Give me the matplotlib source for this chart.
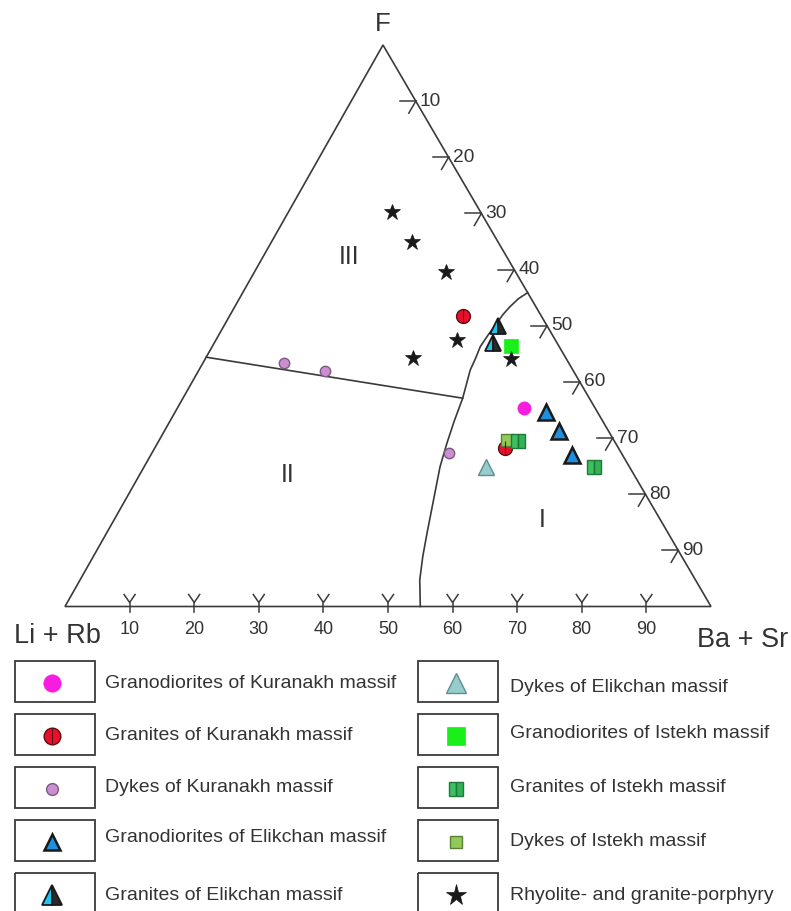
import numpy as np
import matplotlib
matplotlib.use('Agg')
import matplotlib.pyplot as plt
from matplotlib.patches import Rectangle, Polygon

plt.rcParams['font.family'] = ['Liberation Sans', 'DejaVu Sans']

# compositions in percent: F, Li+Rb, Ba+Sr
gdk_F, gdk_LR, gdk_BS = [35.4], [11.0], [53.6]                 # granodiorites Kuranakh
grk_F, grk_LR, grk_BS = [51.7, 28.2], [12.1, 17.5], [36.2, 54.3]  # granites Kuranakh
dyk_F, dyk_LR, dyk_BS = [43.4, 42.0, 27.4], [44.0, 38.4, 26.6], [12.6, 19.6, 46.0]
gde_F, gde_LR, gde_BS = [34.6, 31.3, 27.0], [7.9, 7.7, 7.8], [57.5, 61.0, 65.2]
gre_F, gre_LR, gre_BS = [50.0, 46.9], [7.6, 10.0], [42.4, 43.1]
dye_F, dye_LR, dye_BS = [24.8], [22.3], [52.9]
gdi_F, gdi_LR, gdi_BS = [46.4], [7.4], [46.2]
gri_F, gri_LR, gri_BS = [29.4, 24.9], [14.9, 5.4], [55.7, 69.7]
dyi_F, dyi_LR, dyi_BS = [29.7], [16.5], [53.8]
rhy_F = [70.2, 64.9, 59.6, 47.5, 44.3, 44.1]
rhy_LR = [13.8, 13.4, 10.8, 15.2, 23.6, 8.5]
rhy_BS = [16.0, 21.7, 29.6, 37.3, 32.1, 47.4]

# field boundaries
b23_F, b23_LR, b23_BS = [44.4, 37.1], [55.6, 19.6], [0.0, 43.3]
b1_F = [55.9, 54.8, 53.4, 52.0, 50.4, 48.4, 46.3, 44.2, 42.1, 37.1, 33.0, 29.1, 24.9, 19.0, 13.1, 8.9, 4.7, 0.0]
b1_LR = [0.0, 2.0, 4.0, 5.8, 7.6, 9.9, 12.2, 14.0, 15.9, 19.6, 23.0, 26.1, 29.3, 33.3, 37.3, 40.1, 42.7, 45.0]
b1_BS = [44.1, 43.2, 42.6, 42.2, 42.0, 41.7, 41.5, 41.8, 42.0, 43.3, 44.0, 44.8, 45.8, 47.7, 49.6, 51.0, 52.6, 55.0]

tick_vals = [10, 20, 30, 40, 50, 60, 70, 80, 90]

legend_left = ['Granodiorites of Kuranakh massif', 'Granites of Kuranakh massif',
               'Dykes of Kuranakh massif', 'Granodiorites of Elikchan massif',
               'Granites of Elikchan massif']
legend_right = ['Dykes of Elikchan massif', 'Granodiorites of Istekh massif',
                'Granites of Istekh massif', 'Dykes of Istekh massif',
                'Rhyolite- and granite-porphyry']

# triangle corners in figure pixels
LV = (65.0, 606.5)
RV = (711.0, 606.5)
TV = (383.0, 45.0)


def tern(f, lr, bs):
    f = np.asarray(f, float); lr = np.asarray(lr, float); bs = np.asarray(bs, float)
    s = f + lr + bs
    x = (lr * LV[0] + bs * RV[0] + f * TV[0]) / s
    y = (lr * LV[1] + bs * RV[1] + f * TV[1]) / s
    return x, y


LC = '#3a3a3a'
TC = '#333333'

fig = plt.figure(figsize=(7.91, 9.11), dpi=100)
ax = fig.add_axes([0, 0, 1, 1])
ax.set_xlim(0, 791)
ax.set_ylim(911, 0)
ax.axis('off')

ax.add_patch(Polygon([LV, RV, TV], closed=True, fill=False, ec=LC, lw=1.2))

x, y = tern(b23_F, b23_LR, b23_BS)
ax.plot(x, y, color=LC, lw=1.2)
x, y = tern(b1_F, b1_LR, b1_BS)
ax.plot(x, y, color=LC, lw=1.2)

# ticks
for v in tick_vals:
    bx, by = tern(0, 100 - v, v)
    ax.plot([bx, bx], [by + 5, by - 4], color=LC, lw=1.1)
    ax.plot([bx - 5.5, bx, bx + 5.5], [by - 12, by - 4, by - 12], color=LC, lw=1.1)
    ax.text(bx, 629, str(v), ha='center', va='center', fontsize=13, color=TC)
    rx, ry = tern(100 - v, 0, v)
    ax.plot([rx - 16, rx], [ry, ry], color=LC, lw=1.1)
    ax.plot([rx, rx - 7], [ry, ry + 12], color=LC, lw=1.1)
    ax.text(rx + 4, ry, str(v), ha='left', va='center', fontsize=13.8, color=TC)

ax.text(383, 24, 'F', ha='center', va='center', fontsize=18.5, color=TC)
ax.text(14, 636, 'Li + Rb', ha='left', va='center', fontsize=19.5, color=TC)
ax.text(697, 640, 'Ba + Sr', ha='left', va='center', fontsize=19.5, color=TC)
ax.text(349, 257, 'III', ha='center', va='center', fontsize=18, color=TC)
ax.text(288, 475, 'II', ha='center', va='center', fontsize=18, color=TC)
ax.text(542, 520, 'I', ha='center', va='center', fontsize=18, color=TC)

styles = [
    dict(marker='o', mfc='#f81ce0', mec='#f81ce0', mew=0.5),
    dict(marker='o', mfc='#e8102a', mec='#5a1010', mew=1.0),
    dict(marker='o', mfc='#c98fd0', mec='#7c5a80', mew=1.0),
    dict(marker='^', mfc='#1f8fe0', mec='#1a1a1a', mew=1.8),
    dict(marker='^', mfc='#1cc4ee', mfcalt='#2a2a2a', fillstyle='left', mec='#1a1a1a', mew=1.3),
    dict(marker='^', mfc='#96cccc', mec='#5e8e90', mew=1.0),
    dict(marker='s', mfc='#19f019', mec='#19f019', mew=0.5),
    dict(marker='s', mfc='#3cc060', mfcalt='#35b055', fillstyle='left', mec='#1e7a3a', mew=1.0),
    dict(marker='s', mfc='#92c95a', mec='#5c7f38', mew=1.0),
    dict(marker='*', mfc='#1a1a1a', mec='#1a1a1a', mew=0.5),
]
plot_sizes = [9.5, 10, 7.5, 11.5, 12, 11.5, 9.5, 9.5, 9, 12]
leg_sizes = [12.5, 12, 8.5, 11.5, 14.5, 14.5, 12.5, 10, 9, 15.5]
groups = [(gdk_F, gdk_LR, gdk_BS), (grk_F, grk_LR, grk_BS), (dyk_F, dyk_LR, dyk_BS),
          (gde_F, gde_LR, gde_BS), (gre_F, gre_LR, gre_BS), (dye_F, dye_LR, dye_BS),
          (gdi_F, gdi_LR, gdi_BS), (gri_F, gri_LR, gri_BS), (dyi_F, dyi_LR, dyi_BS),
          (rhy_F, rhy_LR, rhy_BS)]

order = [2, 5, 0, 1, 3, 4, 6, 8, 7, 9]
for i in order:
    st = dict(styles[i])
    alt = st.pop('mfcalt', None)
    x, y = tern(*groups[i])
    kw = dict(ls='none', ms=plot_sizes[i], zorder=3, **st)
    if alt is not None:
        kw['markerfacecoloralt'] = alt
    ax.plot(x, y, **kw)
    if i == 1:
        ax.plot(x, y, ls='none', marker='|', ms=plot_sizes[i], mec='#5a1010', mew=0.8, zorder=4)
    if i == 7:
        ax.plot(x, y, ls='none', marker='|', ms=plot_sizes[i], mec='#1e7a3a', mew=0.8, zorder=4)

# legend
row_y = [681.5, 734.5, 787.5, 840.5, 893.5]
text_left_y = [683, 735, 788, 838, 895]
text_right_y = [688, 733, 788, 842, 895]
for k in range(5):
    for col, (bx0, mx, tx, labels, ty) in enumerate([(15, 52, 105, legend_left, text_left_y),
                                                     (418, 456, 510, legend_right, text_right_y)]):
        ax.add_patch(Rectangle((bx0, row_y[k] - 20.5), 80, 41, fill=False, ec=LC, lw=1.3))
        i = col * 5 + k
        st = dict(styles[i])
        alt = st.pop('mfcalt', None)
        kw = dict(ls='none', ms=leg_sizes[i], **st)
        if alt is not None:
            kw['markerfacecoloralt'] = alt
        ax.plot([mx], [row_y[k] + 1.5], **kw)
        if i == 1:
            ax.plot([mx], [row_y[k] + 1.5], ls='none', marker='|', ms=leg_sizes[i], mec='#5a1010', mew=0.8)
        if i == 7:
            ax.plot([mx], [row_y[k] + 1.5], ls='none', marker='|', ms=leg_sizes[i], mec='#1e7a3a', mew=0.8)
        ax.text(tx, ty[k], labels[k], ha='left', va='center', fontsize=14.0, color=TC)

fig.savefig('out.png', dpi=100, facecolor='white')
